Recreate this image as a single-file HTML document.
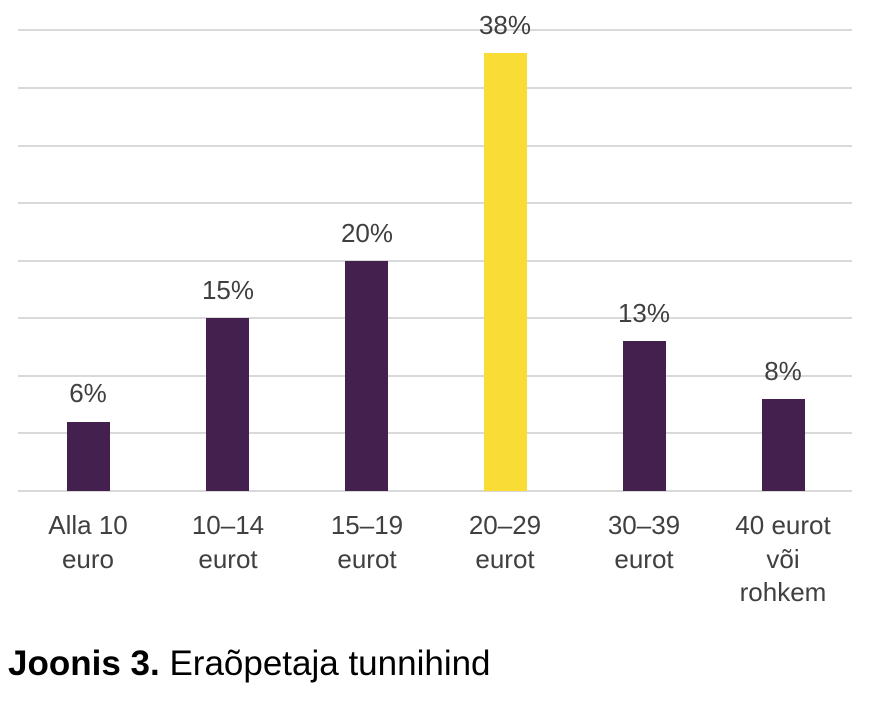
<!DOCTYPE html>
<html><head><meta charset="utf-8"><style>
html,body{margin:0;padding:0;background:#fff;width:884px;height:723px;overflow:hidden}
</style></head><body>
<svg width="884" height="723" xmlns="http://www.w3.org/2000/svg" font-family="Liberation Sans, sans-serif">
<g stroke="#d9d9d9" stroke-width="2">
<line x1="18" x2="852" y1="30" y2="30"/>
<line x1="18" x2="852" y1="88" y2="88"/>
<line x1="18" x2="852" y1="146" y2="146"/>
<line x1="18" x2="852" y1="203" y2="203"/>
<line x1="18" x2="852" y1="261" y2="261"/>
<line x1="18" x2="852" y1="318" y2="318"/>
<line x1="18" x2="852" y1="376" y2="376"/>
<line x1="18" x2="852" y1="433" y2="433"/>
<line x1="18" x2="852" y1="491" y2="491"/>
</g>
<g fill="#43204d">
<rect x="67" y="422" width="43" height="69"/>
<rect x="206" y="318" width="43" height="173"/>
<rect x="345" y="261" width="43" height="230"/>
<rect x="623" y="341" width="43" height="150"/>
<rect x="762" y="399" width="43" height="92"/>
</g>
<rect x="484" y="53" width="43" height="438" fill="#f9dd36"/>
<g font-size="26" fill="#404040" text-anchor="middle">
<text x="88" y="402">6%</text>
<text x="228" y="299">15%</text>
<text x="367" y="242">20%</text>
<text x="505" y="34">38%</text>
<text x="644" y="322">13%</text>
<text x="783" y="380">8%</text>
<text x="88" y="534">Alla 10</text><text x="88" y="568">euro</text>
<text x="228" y="534">10–14</text><text x="228" y="568">eurot</text>
<text x="367" y="534">15–19</text><text x="367" y="568">eurot</text>
<text x="505" y="534">20–29</text><text x="505" y="568">eurot</text>
<text x="644" y="534">30–39</text><text x="644" y="568">eurot</text>
<text x="783" y="534">40 eurot</text><text x="783" y="568">või</text><text x="783" y="601">rohkem</text>
</g>
<text x="8" y="675" font-size="35" fill="#000"><tspan font-weight="bold">Joonis 3.</tspan> Eraõpetaja tunnihind</text>
</svg>
</body></html>
